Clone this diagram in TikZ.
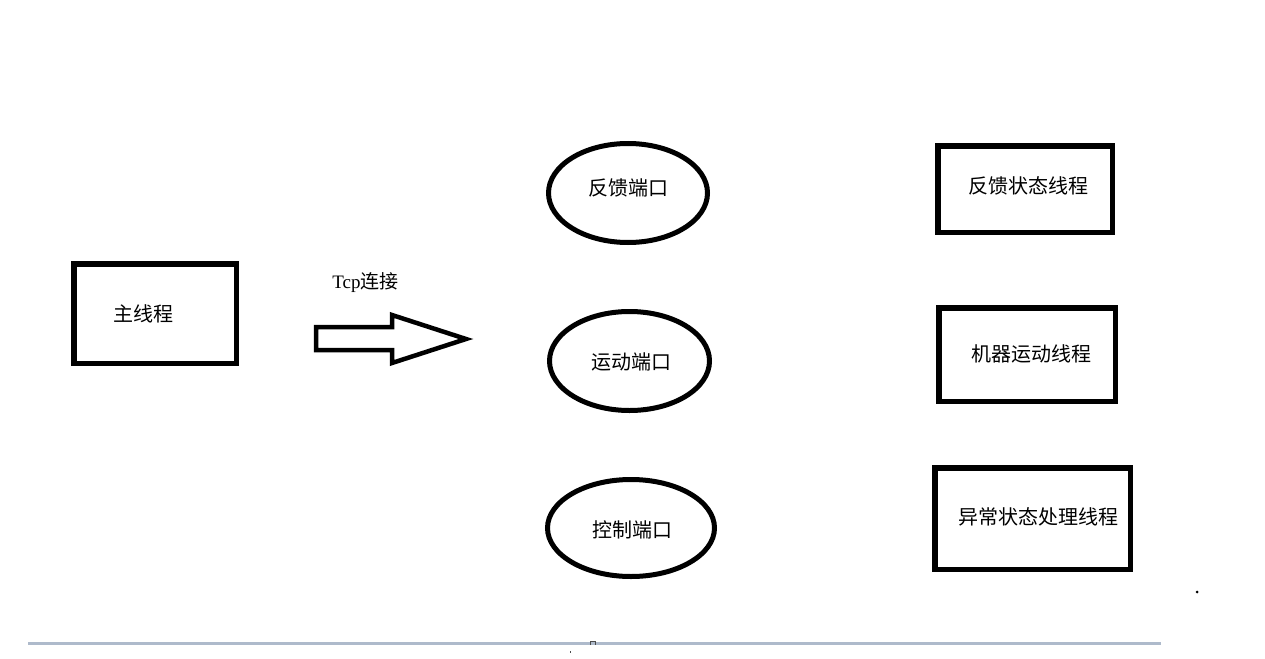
\documentclass[tikz,border=0pt]{standalone}
\usepackage{fontspec}
\setmainfont{Liberation Serif}
\newfontfamily\cjk{Noto Sans CJK SC}
\usetikzlibrary{shapes.geometric}
\definecolor{rulegray}{HTML}{AEBACB}
\begin{document}
\begin{tikzpicture}[x=1pt,y=-1pt,
  threadbox/.style={draw=black,line width=5.5pt,rectangle,inner sep=0pt},
  portellipse/.style={draw=black,line width=5pt,ellipse,inner sep=0pt},
  label text/.style={font=\cjk\fontsize{20}{24}\selectfont,inner sep=0pt,text=black},
  bigarrow/.style={draw=black,line width=4.5pt,line join=miter,fill=white}]
\useasboundingbox[fill=white] (0,0) rectangle (1265,658);

% main thread
\node[threadbox,minimum width=162.5pt,minimum height=99.5pt] (main) at (155,313.5) {};
\node[label text] (mainlbl) at (143.5,314) {主线程};

% TCP connection arrow
\draw[bigarrow] (316,327) -- (392,327) -- (392,315) -- (466,339) -- (392,363)
  -- (392,350) -- (316,350) -- cycle;
\node[font=\fontsize{19}{22}\selectfont,inner sep=0pt] (tcp) at (365.5,283)
  {Tcp{\cjk 连接}};

% ports
\node[portellipse,minimum width=159pt,minimum height=99pt] (fbport) at (628,193) {};
\node[label text] (fbportlbl) at (628,188) {反馈端口};
\node[portellipse,minimum width=160pt,minimum height=99pt] (mvport) at (629.5,361) {};
\node[label text] (mvportlbl) at (631,362) {运动端口};
\node[portellipse,minimum width=167pt,minimum height=97pt] (ctport) at (631,528) {};
\node[label text] (ctportlbl) at (632,530) {控制端口};

% worker threads
\node[threadbox,minimum width=174.5pt,minimum height=86.5pt] (fbthread) at (1025,189) {};
\node[label text] (fbthreadlbl) at (1028,186) {反馈状态线程};
\node[threadbox,minimum width=176.5pt,minimum height=93.5pt] (mvthread) at (1027,354.5) {};
\node[label text] (mvthreadlbl) at (1031,354) {机器运动线程};
\node[threadbox,minimum width=195.5pt,minimum height=101.5pt] (exthread) at (1032.5,518.5) {};
\node[label text] (exthreadlbl) at (1038,517) {异常状态处理线程};

% stray marks near the bottom
\fill[black] (1197,592) circle (1.5pt);
\fill[rulegray] (28,642) rectangle (1161,645);
\draw[black!70,line width=0.8pt] (590.5,645) -- (590.5,641.5) -- (595.5,641.5) -- (595.5,645);
\fill[black!70] (569.5,651) rectangle (570.5,653);
\end{tikzpicture}
\end{document}
